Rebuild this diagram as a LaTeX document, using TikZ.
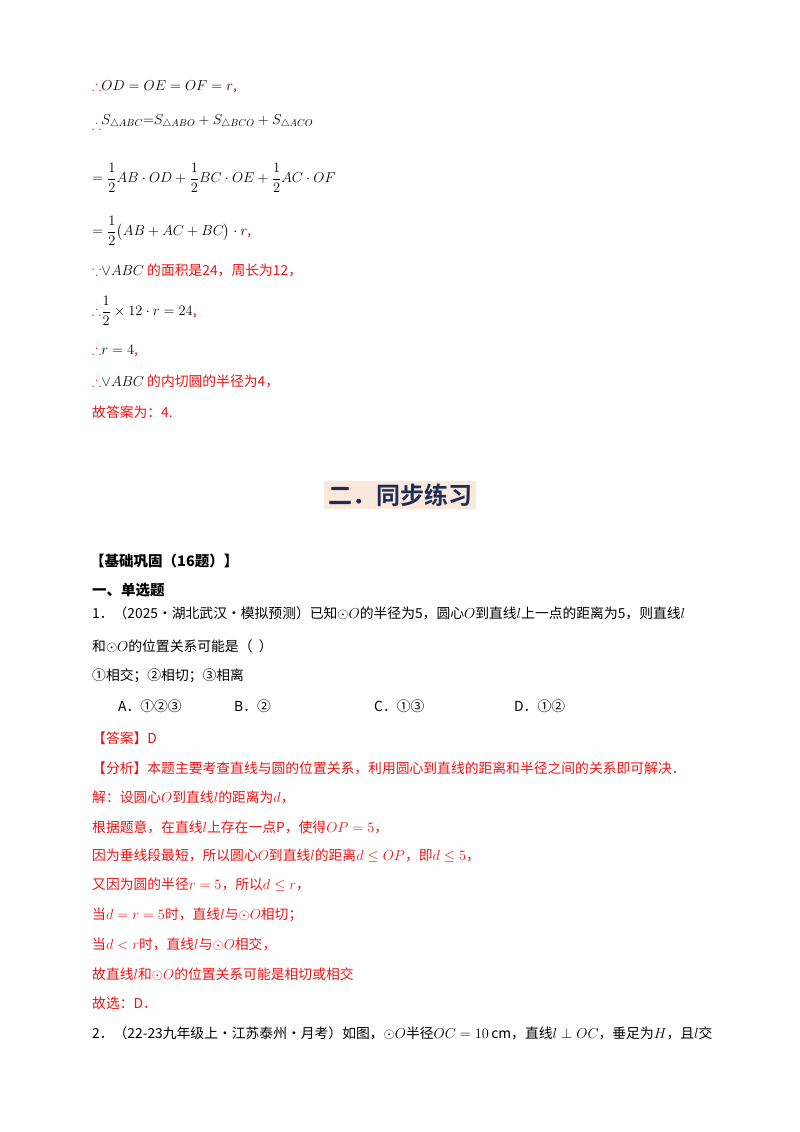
\documentclass[tikz,border=0pt]{standalone}
\usepackage{amsmath,amssymb}
\usepackage{fontspec}
\setmainfont{Noto Sans CJK SC}
\newfontfamily\cjkb{Noto Sans CJK SC Bold}
\usepackage{tikz}
\usetikzlibrary{calc}
\definecolor{ansred}{RGB}{235,20,20}
\definecolor{headbg}{RGB}{250,232,218}
\definecolor{headfg}{RGB}{30,45,85}
\tikzset{
  line/.style={anchor=west, inner sep=0pt, font=\fontsize{13.8}{16}\selectfont},
  redline/.style={line, text=ansred},
  boldline/.style={line, font=\fontsize{14.5}{16}\selectfont\bfseries},
}
\begin{document}
\begin{tikzpicture}[x=1pt,y=-1pt]
  \useasboundingbox[fill=white] (0,0) rectangle (800,1132);
  % ending of the worked example
  \node[line] (s1) at (92,87) {\textcolor{ansred}{$\therefore$}$OD=OE=OF=r$\textcolor{ansred}{,}};
  \node[line] (s2) at (92,122) {\textcolor{ansred}{$\therefore$}\raisebox{5pt}{$S_{\triangle ABC}{=}S_{\triangle ABO}+S_{\triangle BCO}+S_{\triangle ACO}$}};
  \node[line] (s3) at (92,178) {$=\dfrac12AB\cdot OD+\dfrac12BC\cdot OE+\dfrac12AC\cdot OF$};
  \node[line] (s4) at (92,231) {$=\dfrac12\bigl(AB+AC+BC\bigr)\cdot r$\textcolor{ansred}{,}};
  \node[redline] (s5) at (92,270) {$\because$\textcolor{black}{$\vee ABC$} 的面积是24，周长为12，};
  \node[line] (s6) at (92,311) {\textcolor{ansred}{$\therefore$}$\dfrac12\times12\cdot r=24$\textcolor{ansred}{,}};
  \node[line] (s7) at (92,351) {\textcolor{ansred}{$\therefore$}$r=4$\textcolor{ansred}{,}};
  \node[redline] (s8) at (92,381) {$\therefore$\textcolor{black}{$\vee ABC$} 的内切圆的半径为4，};
  \node[redline] (s9) at (92,412) {故答案为：4.};
  % section heading
  \node[fill=headbg, text=headfg, inner xsep=4pt, inner ysep=3pt,
        font=\fontsize{24}{26}\selectfont\cjkb] (head) at (400,495) {二．同步练习};
  % exercises
  \node[boldline] (q0) at (90,561) {\cjkb【基础巩固（16题）】};
  \node[boldline] (q1) at (92,590) {\cjkb 一、单选题};
  \node[line] (p1) at (92,613) {1．（2025·湖北武汉·模拟预测）已知$\odot O$的半径为5，圆心$O$到直线$l$上一点的距离为5，则直线$l$};
  \node[line] (p2) at (92,646) {和$\odot O$的位置关系可能是（\ \ ）};
  \node[line] (p3) at (92,676) {①相交；②相切；③相离};
  \node[line] (oa) at (118,706) {A．①②③};
  \node[line] (ob) at (234,706) {B．②};
  \node[line] (oc) at (374,706) {C．①③};
  \node[line] (od) at (514,706) {D．①②};
  % answer and analysis
  \node[redline] (a1) at (92,738) {【答案】D};
  \node[redline] (a2) at (92,768) {【分析】本题主要考查直线与圆的位置关系，利用圆心到直线的距离和半径之间的关系即可解决．};
  \node[redline] (a3) at (92,797) {解：设圆心$O$到直线$l$的距离为$d$，};
  \node[redline] (a4) at (92,827) {根据题意，在直线$l$上存在一点P，使得$OP=5$，};
  \node[redline] (a5) at (92,856) {因为垂线段最短，所以圆心$O$到直线$l$的距离$d\leq OP$，即$d\leq5$，};
  \node[redline] (a6) at (92,885) {又因为圆的半径$r=5$，所以$d\leq r$，};
  \node[redline] (a7) at (92,915) {当$d=r=5$时，直线$l$与$\odot O$相切；};
  \node[redline] (a8) at (92,944) {当$d<r$时，直线$l$与$\odot O$相交，};
  \node[redline] (a9) at (92,974) {故直线$l$和$\odot O$的位置关系可能是相切或相交};
  \node[redline] (a10) at (92,1003) {故选：D．};
  \node[line] (p4) at (92,1033) {2．（22-23九年级上·江苏泰州·月考）如图，$\odot O$半径$OC=10\,\mathrm{cm}$，直线$l\perp OC$，垂足为$H$，且$l$交};
\end{tikzpicture}
\end{document}
